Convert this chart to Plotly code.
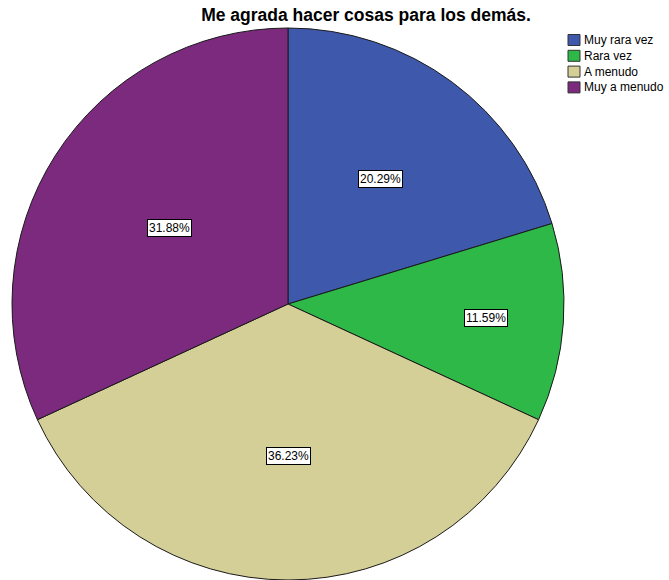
import math
import plotly.graph_objects as go

categories = ["Muy rara vez", "Rara vez", "A menudo", "Muy a menudo"]
counts = [14, 8, 25, 22]
colors = ["#3E58AC", "#2EB848", "#D4CE97", "#7B2A7D"]
label_radius = [0.565, 0.72, 0.55, 0.51]

W, H = 669, 580
cx_px, cy_px, r_px = 288, 304, 276
dom_x = [(cx_px - r_px) / W, (cx_px + r_px) / W]
dom_y = [(H - cy_px - r_px) / H, (H - cy_px + r_px) / H]

FONT = "Liberation Sans, Arial"

fig = go.Figure(go.Pie(
    labels=categories, values=counts, sort=False, direction="clockwise", rotation=0,
    marker=dict(colors=colors, line=dict(color="#1a1a1a", width=1)),
    textinfo="none", hoverinfo="label+percent",
    domain=dict(x=dom_x, y=dom_y), showlegend=False,
))

total = sum(counts)
cum = 0
annotations = []
for v, rf in zip(counts, label_radius):
    mid = (cum + v / 2) / total * 2 * math.pi
    cum += v
    x_px = cx_px + rf * r_px * math.sin(mid)
    y_px = cy_px - rf * r_px * math.cos(mid)
    annotations.append(dict(
        x=x_px / W, y=1 - y_px / H, xref="paper", yref="paper",
        text=f"{v / total * 100:.2f}%", showarrow=False,
        font=dict(family=FONT, size=12, color="black"),
        bgcolor="white", bordercolor="black", borderwidth=1, borderpad=1,
        xanchor="center", yanchor="middle",
    ))

# custom legend
shapes = []
leg_x0, leg_y0, leg_dy, sw_w, sw_h = 568, 40, 15.8, 12, 11
for i, (cat, col) in enumerate(zip(categories, colors)):
    yc = leg_y0 + i * leg_dy
    shapes.append(dict(
        type="rect", xref="paper", yref="paper",
        x0=leg_x0 / W, x1=(leg_x0 + sw_w) / W,
        y0=1 - (yc - sw_h / 2) / H, y1=1 - (yc + sw_h / 2) / H,
        fillcolor=col, line=dict(color="#333333", width=1),
    ))
    annotations.append(dict(
        x=(leg_x0 + sw_w + 2) / W, y=1 - yc / H, xref="paper", yref="paper",
        text=cat, showarrow=False, xanchor="left", yanchor="middle",
        font=dict(family=FONT, size=12, color="black"),
    ))

fig.update_layout(
    width=W, height=H,
    margin=dict(l=0, r=0, t=0, b=0, autoexpand=False),
    paper_bgcolor="white", plot_bgcolor="white",
    title=dict(text="<b>Me agrada hacer cosas para los demás.</b>",
               x=366 / W, xanchor="center", y=1 - 15 / H, yanchor="middle",
               font=dict(family=FONT, size=17.5, color="black")),
    showlegend=False,
    annotations=annotations,
    shapes=shapes,
)

fig.write_html("out.html", config={"displayModeBar": False},
               post_script="document.body.style.margin='0';")
